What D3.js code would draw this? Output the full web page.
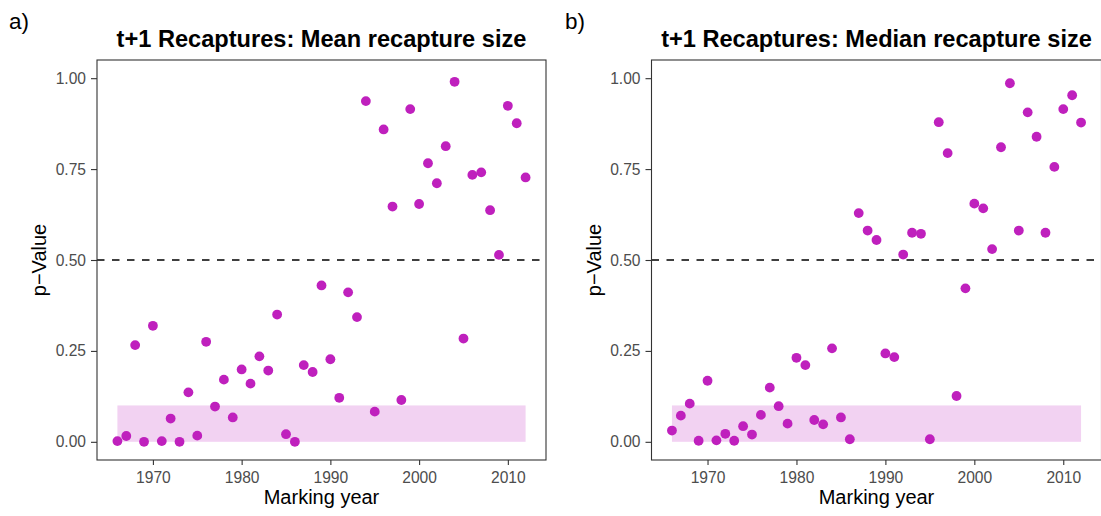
<!DOCTYPE html>
<html>
<head>
<meta charset="utf-8">
<script src="https://cdn.jsdelivr.net/npm/d3@7"></script>
<style>
  body { margin: 0; background: #fff; }
  svg { display: block; font-family: "Liberation Sans", Arial, sans-serif; }
</style>
</head>
<body>
<svg id="chart" width="1101" height="516"></svg>
<script>
// Marking years 1966–2012
const years = d3.range(1966, 2013);

// p-values of the t+1 recapture tests, one per marking year
const meanP = [
  0.002, 0.016, 0.266, 0.000, 0.319, 0.002, 0.064, 0.000, 0.136, 0.017,
  0.275, 0.097, 0.171, 0.067, 0.199, 0.160, 0.235, 0.196, 0.350, 0.021,
  0.000, 0.211, 0.192, 0.430, 0.227, 0.121, 0.411, 0.343, 0.937, 0.083,
  0.859, 0.647, 0.115, 0.915, 0.654, 0.766, 0.711, 0.813, 0.990, 0.284,
  0.734, 0.741, 0.637, 0.514, 0.924, 0.876, 0.727
];
const medianP = [
  0.031, 0.072, 0.105, 0.003, 0.168, 0.004, 0.022, 0.003, 0.043, 0.020,
  0.074, 0.149, 0.098, 0.050, 0.231, 0.211, 0.060, 0.048, 0.257, 0.067,
  0.007, 0.629, 0.581, 0.555, 0.243, 0.233, 0.515, 0.575, 0.572, 0.007,
  0.879, 0.794, 0.126, 0.422, 0.655, 0.642, 0.530, 0.810, 0.986, 0.581,
  0.906, 0.839, 0.575, 0.756, 0.915, 0.953, 0.878
];

const xTicks = [1970, 1980, 1990, 2000, 2010];
const yTicks = [0, 0.25, 0.5, 0.75, 1];
const threshold = 0.5;      // dashed reference line
const bandTop = 0.1;        // shaded significance band

const panels = [
  { tag: "a)", title: "t+1 Recaptures: Mean recapture size",   values: meanP,   left: 97,    right: 546,    tagX: 9 },
  { tag: "b)", title: "t+1 Recaptures: Median recapture size", values: medianP, left: 651.5, right: 1101.5, tagX: 565 }
];

const pointColor = "#BF20BD";
const axisColor = "#333333";
const tickText = "#4D4D4D";
const panelTop = 60, panelBottom = 460;

const svg = d3.select("#chart");

panels.forEach(p => {
  const data = years.map((yr, i) => ({ year: yr, p: p.values[i] }));
  const yrExt = d3.extent(years);
  const xPad = (yrExt[1] - yrExt[0]) * 0.05;
  const x = d3.scaleLinear().domain([yrExt[0] - xPad, yrExt[1] + xPad]).range([p.left, p.right]);
  const y = d3.scaleLinear().domain([-0.05, 1.05]).range([panelBottom, panelTop]);

  const g = svg.append("g");

  // shaded band from p = 0 to 0.1 across the marking years
  g.append("rect")
    .attr("x", x(yrExt[0]))
    .attr("width", x(yrExt[1]) - x(yrExt[0]))
    .attr("y", y(bandTop))
    .attr("height", y(0) - y(bandTop))
    .attr("fill", pointColor)
    .attr("fill-opacity", 0.2);

  // dashed line at p = 0.5
  g.append("line")
    .attr("x1", p.left).attr("x2", p.right)
    .attr("y1", y(threshold)).attr("y2", y(threshold))
    .attr("stroke", "#000")
    .attr("stroke-width", 1.6)
    .attr("stroke-dasharray", "7.5,7.5");

  // points
  g.selectAll("circle.pt").data(data).join("circle")
    .attr("class", "pt")
    .attr("cx", d => x(d.year))
    .attr("cy", d => y(d.p))
    .attr("r", 4.9)
    .attr("fill", pointColor);

  // axes
  const xAxis = g.append("g")
    .attr("transform", `translate(0,${panelBottom})`)
    .call(d3.axisBottom(x).tickValues(xTicks).tickFormat(d3.format("d")).tickSize(5).tickPadding(7));
  const yAxis = g.append("g")
    .attr("transform", `translate(${p.left},0)`)
    .call(d3.axisLeft(y).tickValues(yTicks).tickFormat(d3.format(".2f")).tickSize(6).tickPadding(5));

  [xAxis, yAxis].forEach(ax => {
    ax.select(".domain").remove();
    ax.selectAll(".tick line").attr("stroke", axisColor).attr("stroke-width", 1.1);
    ax.selectAll(".tick text")
      .attr("fill", tickText)
      .attr("font-size", 15.6)
      .attr("font-family", "Liberation Sans, Arial, sans-serif");
  });

  // panel border
  g.append("rect")
    .attr("x", p.left).attr("y", panelTop)
    .attr("width", p.right - p.left).attr("height", panelBottom - panelTop)
    .attr("fill", "none")
    .attr("stroke", axisColor)
    .attr("stroke-width", 1.1);

  // titles and labels
  const cx = (p.left + p.right) / 2;
  svg.append("text")
    .attr("x", cx).attr("y", 46.5)
    .attr("text-anchor", "middle")
    .attr("font-weight", "bold")
    .attr("font-size", 23.6)
    .attr("fill", "#000")
    .text(p.title);

  svg.append("text")
    .attr("x", cx).attr("y", 503.5)
    .attr("text-anchor", "middle")
    .attr("font-size", 20)
    .attr("fill", "#000")
    .text("Marking year");

  svg.append("text")
    .attr("transform", `translate(${p.left - 51},${(panelTop + panelBottom) / 2}) rotate(-90)`)
    .attr("text-anchor", "middle")
    .attr("font-size", 20)
    .attr("fill", "#000")
    .text("p\u2212Value");

  svg.append("text")
    .attr("x", p.tagX).attr("y", 28.5)
    .attr("font-size", 22.5)
    .attr("fill", "#000")
    .text(p.tag);
});
</script>
</body>
</html>
